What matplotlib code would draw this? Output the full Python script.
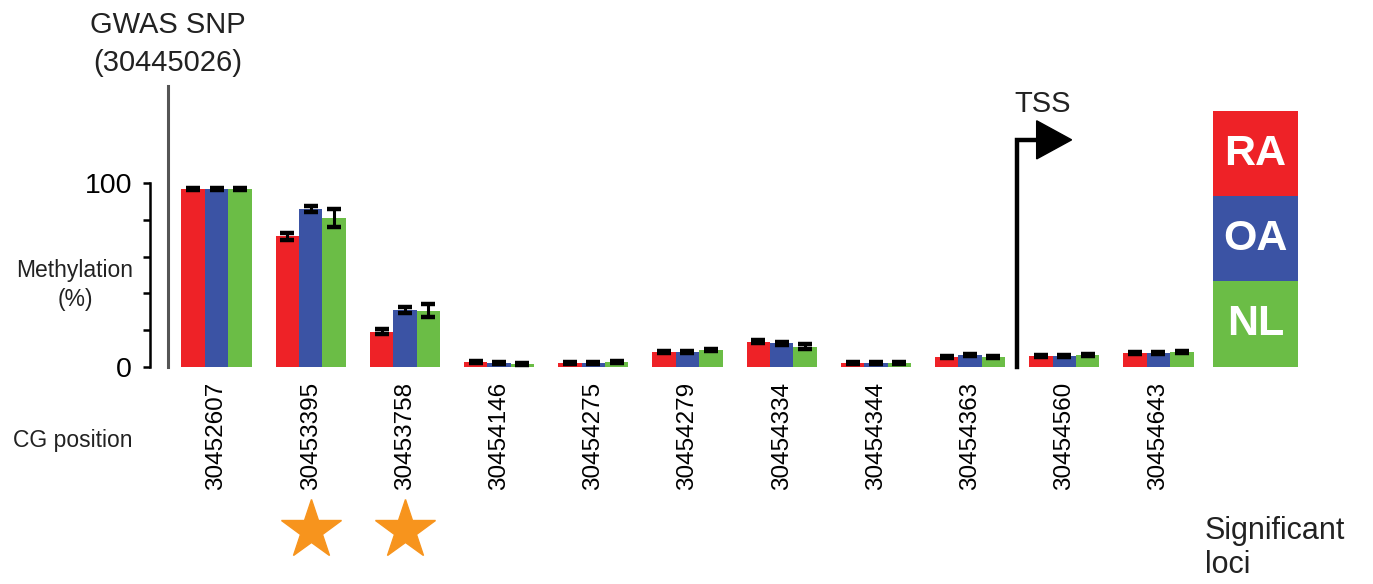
"""
Methylation (%) at CG positions near the GWAS SNP, RA / OA / NL groups.
"""
import matplotlib
matplotlib.use("Agg")
import matplotlib.pyplot as plt
import matplotlib.patches as mpatches
import numpy as np

plt.rcParams.update({
    "font.family": ["Liberation Sans", "DejaVu Sans"],
    "text.color": "#222222",
})

# --- data -------------------------------------------------------------
cg_positions = ["30452607", "30453395", "30453758", "30454146", "30454275",
                "30454279", "30454334", "30454344", "30454363", "30454560",
                "30454643"]
ra_vals = [97.0, 71.0, 19.0, 2.7, 1.8, 8.0, 13.6, 1.9, 5.5, 5.8, 7.3]
oa_vals = [97.0, 86.0, 31.0, 2.2, 1.8, 8.2, 12.7, 1.8, 6.2, 5.8, 7.3]
nl_vals = [96.7, 81.2, 30.6, 1.6, 2.6, 9.1, 10.9, 1.8, 5.1, 6.2, 8.2]
ra_err = [0.6, 2.0, 1.4, 0.6, 0.6, 0.6, 0.8, 0.5, 0.6, 0.6, 0.6]
oa_err = [0.6, 1.5, 1.8, 0.6, 0.6, 0.6, 0.8, 0.5, 0.6, 0.6, 0.6]
nl_err = [0.6, 4.8, 3.4, 0.5, 0.6, 0.8, 1.5, 0.5, 0.6, 0.6, 0.6]
significant = [False, True, True, False, False, False, False, False, False,
               False, False]
group_labels = ["RA", "OA", "NL"]

COLORS = {"RA": "#EE2227", "OA": "#3B53A4", "NL": "#6BBD46"}
STAR_COLOR = "#F7941D"

W, H = 1373, 584


def px(x, y, w, h):
    """pixel box (top-left origin) -> figure fraction rect"""
    return [x / W, 1 - (y + h) / H, w / W, h / H]


fig = plt.figure(figsize=(W / 100, H / 100), dpi=100)
ax = fig.add_axes(px(150, 183.3, 1050, 183.4))

x = np.arange(len(cg_positions))
width = 0.248
series = [
    ("RA", ra_vals, ra_err),
    ("OA", oa_vals, oa_err),
    ("NL", nl_vals, nl_err),
]
for i, (name, vals, errs) in enumerate(series):
    ax.bar(x + (i - 1) * width, vals, width, color=COLORS[name],
           linewidth=0, zorder=2)
    ax.errorbar(x + (i - 1) * width, vals, yerr=errs, fmt="none",
                ecolor="black", elinewidth=2.2, capsize=5, capthick=3.2,
                zorder=3)

ax.set_xlim(-0.706, 10.441)
ax.set_ylim(0, 100)

# y axis: only 0 and 100 labelled
ax.set_yticks([0, 100])
ax.set_yticklabels(["0", "100"], fontsize=20.5)
ax.set_yticks([20, 40, 60, 80], minor=True)
ax.tick_params(axis="y", which="both", direction="out", length=5,
               width=1.8, pad=8)
ax.set_xticks(x)
ax.set_xticklabels(cg_positions, rotation=90, fontsize=17.5)
ax.tick_params(axis="x", length=0, pad=11)

for side in ("top", "right", "bottom"):
    ax.spines[side].set_visible(False)
ax.spines["left"].set_linewidth(1.8)
ax.patch.set_visible(False)

# GWAS SNP marker line
gwas_x = -0.518
ax.plot([gwas_x, gwas_x], [0, 153], color="#555555", lw=2.2,
        clip_on=False, zorder=1)
ax.text(gwas_x, 176, "GWAS SNP\n(30445026)", ha="center", va="center",
        fontsize=21, linespacing=1.45, clip_on=False)

# TSS arrow
tss_x = 8.5
ax.plot([tss_x, tss_x, 8.72], [0, 123.7, 123.7], color="black", lw=3.2,
        solid_joinstyle="miter", clip_on=False)
ax.add_patch(mpatches.Polygon([[8.707, 134.1], [8.707, 113.3], [9.078, 123.7]],
                              closed=True, color="black", clip_on=False))
ax.text(8.77, 143.3, "TSS", ha="center", va="center", fontsize=21,
        clip_on=False)

# significant loci stars
sig_x = x[np.array(significant)]
ax.plot(sig_x, [-89] * len(sig_x), ls="none", marker="*", ms=45,
        color=STAR_COLOR, mec=STAR_COLOR, clip_on=False)

# side labels
fig.text(75 / W, 1 - 285 / H, "Methylation\n(%)", ha="center", va="center",
         fontsize=16.5, linespacing=1.35)
fig.text(73 / W, 1 - 440 / H, "CG position", ha="center", va="center",
         fontsize=16.5)
fig.text(1205 / W, 1 - 548 / H, "Significant\nloci", ha="left", va="center",
         fontsize=22, linespacing=1.2)

# colour key boxes
lax = fig.add_axes(px(1212.7, 111, 85.6, 255.7))
lax.set_xlim(0, 1)
lax.set_ylim(0, 3)
lax.axis("off")
for i, name in enumerate(group_labels):
    yb = 2 - i
    lax.add_patch(mpatches.Rectangle((0, yb), 1, 1, color=COLORS[name],
                                     linewidth=0))
    lax.text(0.5, yb + 0.5, name, ha="center", va="center", color="white",
             fontsize=31, fontweight="bold")

fig.savefig("out.png", dpi=100)
